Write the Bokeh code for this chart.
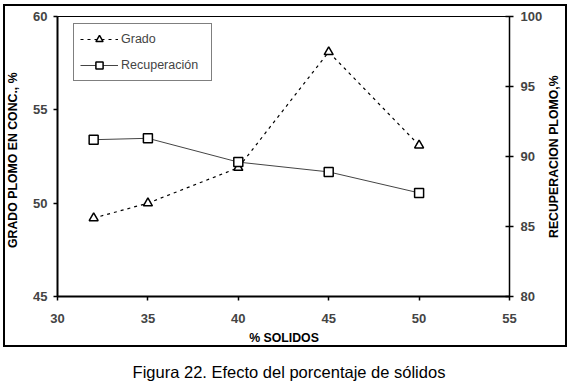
from bokeh.plotting import figure
from bokeh.models import Range1d, LinearAxis, FixedTicker, Legend, LegendItem, Div
from bokeh.layouts import row, column
from bokeh.embed import file_html
from bokeh.resources import INLINE

# ---- data ----
solidos = [32, 35, 40, 45, 50]
grado = [49.2, 50.0, 51.9, 58.1, 53.1]
recuperacion = [91.2, 91.3, 89.6, 88.9, 87.4]
x_ticks = [30, 35, 40, 45, 50, 55]
grado_ticks = [45, 50, 55, 60]
rec_ticks = [80, 85, 90, 95, 100]

FONT = "Liberation Sans"

p = figure(width=522, height=325, output_backend="svg", toolbar_location=None,
           x_range=Range1d(30, 55), y_range=Range1d(45, 60),
           min_border_left=34, min_border_right=36, min_border_top=10,
           min_border_bottom=35)
p.extra_y_ranges = {"rec": Range1d(80, 100)}
p.xgrid.visible = False
p.ygrid.visible = False
p.outline_line_color = "black"
p.outline_line_width = 1
p.background_fill_color = "white"
p.border_fill_color = None

# bottom axis (numbers; its title is the text below the plot)
xa = p.xaxis[0]
xa.ticker = FixedTicker(ticks=x_ticks)
xa.minor_tick_line_color = None
xa.major_tick_in = 0
xa.major_tick_out = 4
xa.axis_line_width = 2
xa.major_tick_line_width = 1.5
xa.major_label_standoff = 13
xa.major_label_text_font = FONT
xa.major_label_text_font_size = "13px"
xa.major_label_text_font_style = "bold"

# left axis (numbers; its title is the rotated text beside the plot)
ya = p.yaxis[0]
ya.ticker = FixedTicker(ticks=grado_ticks)
ya.minor_tick_line_color = None
ya.major_tick_in = 0
ya.major_tick_out = 4
ya.axis_line_width = 2
ya.major_tick_line_width = 1.5
ya.major_label_standoff = 6
ya.major_label_text_font = FONT
ya.major_label_text_font_size = "13px"
ya.major_label_text_font_style = "bold"

# right axis
ra = LinearAxis(y_range_name="rec", ticker=FixedTicker(ticks=rec_ticks))
ra.minor_tick_line_color = None
ra.major_tick_in = 4
ra.major_tick_out = 4
ra.axis_line_width = 1.5
ra.major_tick_line_width = 1.5
ra.major_label_standoff = 7
ra.major_label_text_font = FONT
ra.major_label_text_font_size = "13px"
ra.major_label_text_font_style = "bold"
p.add_layout(ra, "right")

# series
g_line = p.line(solidos, grado, line_color="black", line_width=1.2, line_dash="3 4")
g_pts = p.scatter(solidos, grado, marker="triangle", size=9, fill_color="white",
                  line_color="black", line_width=1.5)
r_line = p.line(solidos, recuperacion, y_range_name="rec", line_color="#444444",
                line_width=1)
r_pts = p.scatter(solidos, recuperacion, y_range_name="rec", marker="square", size=9,
                  fill_color="white", line_color="black", line_width=1.5)

legend = Legend(items=[LegendItem(label="Grado", renderers=[g_line, g_pts]),
                       LegendItem(label="Recuperación", renderers=[r_line, r_pts])],
                location=(16, 215), padding=6, spacing=8, glyph_height=18,
                glyph_width=38, label_standoff=3, label_width=84, margin=0,
                border_line_color="black", border_line_width=1.5,
                background_fill_color="white", background_fill_alpha=1,
                label_text_font=FONT, label_text_font_size="12.5px")
p.add_layout(legend)

TITLE_STYLE = {"font-family": FONT, "font-size": "12.3px", "font-weight": "bold",
               "color": "black", "white-space": "nowrap"}


def vertical_title(text, width, pad):
    return Div(text=text, width=width, height=339, margin=0,
               styles={**TITLE_STYLE,
                       "writing-mode": "vertical-rl",
                       "transform": "rotate(180deg)",
                       "box-sizing": "border-box",
                       "padding-top": f"{pad}px",
                       "display": "flex",
                       "align-items": "center",
                       "justify-content": "center",
                       "text-align": "center"})


left_title = vertical_title("GRADO PLOMO EN CONC., %", 18, 31)
right_title = vertical_title("RECUPERACION PLOMO,%", 20, 38)
x_title = Div(text="% SOLIDOS", width=522, height=14, margin=0,
              styles={**TITLE_STYLE, "text-align": "center", "line-height": "14px"})

chart = row(left_title, column(p, x_title), right_title, margin=(4, 0, 0, 3),
            styles={"border": "2px solid black"})

caption = Div(text="Figura 22. Efecto del porcentaje de sólidos", width=578, height=32,
              margin=0,
              styles={"box-sizing": "border-box", "padding-top": "14px",
                      "text-align": "center", "font-family": FONT,
                      "font-size": "16.5px", "color": "black",
                      "white-space": "nowrap"})

layout = column(chart, caption)

open("out.html", "w").write(file_html(layout, INLINE))
